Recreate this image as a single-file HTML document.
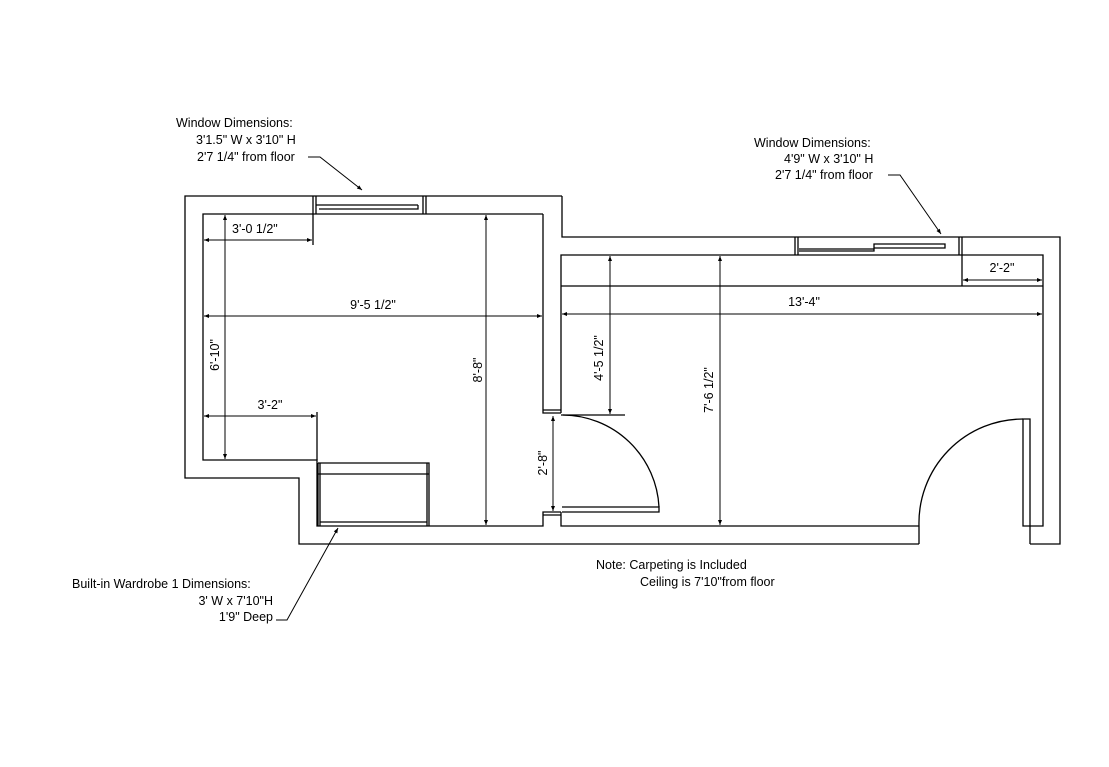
<!DOCTYPE html>
<html><head><meta charset="utf-8"><style>
html,body{margin:0;padding:0;background:#fff;}
svg{display:block;}
text{font-family:"Liberation Sans",sans-serif;font-size:12.5px;fill:#000;}
</style></head><body>
<svg width="1109" height="767" viewBox="0 0 1109 767" xmlns="http://www.w3.org/2000/svg">
<defs>
<marker id="a" viewBox="0 0 10 10" refX="10" refY="5" markerWidth="7" markerHeight="5" orient="auto-start-reverse"><path d="M0,1 L10,5 L0,9 z" fill="#000"/></marker>
</defs>
<g fill="none" stroke="#000" stroke-width="1.3">
<!-- outer wall -->
<path d="M562,196 H185 V478 H299 V544 H919"/>
<path d="M562,196 V237 H1060 V544 H1030"/>
<!-- inner room1 -->
<path d="M543,214 H203 V460 H317 V526 H543 V512 H561"/>
<path d="M543,214 V413 H561"/>
<path d="M543,410 H561"/>
<path d="M543,515 H561"/>
<!-- inner room2 -->
<path d="M561,413 V255 H1043 V526 H1030"/>
<path d="M561,512 V526 H919"/>
<path d="M919,526 V544 M1030,526 V544"/>
<path d="M1023,419 H1030 V526 H1023 Z"/>
<!-- windows -->
<path d="M313,196 V214 M316,196 V214 M423,196 V214 M426,196 V214 M316,205 H418 M319,209 H418 V205"/>
<path d="M795,237 V255 M798,237 V255 M959,237 V255 M962,237 V255 M799,249 H874 M799,251 H874 V244 H945 V248 H874"/>
<!-- wardrobe -->
<path d="M318,463 H429 V526 M318,463 V526 M320,463 V526 M427,463 V526 M318,474 H429 M320,522 H427"/>
<!-- doors -->
<path d="M562,507 H659 V512 H562"/>
<path d="M563,415 A97,97 0 0 1 659,507"/>
<path d="M1023,419 A104,104 0 0 0 919,526"/>
<!-- extension lines -->
<path d="M561,286 H1043"/>
<path d="M962,255 V286"/>
<path d="M561,415 H625"/>
<path d="M313,214 V245"/>
<path d="M317,412 V460"/>
</g>
<g fill="none" stroke="#000" stroke-width="1" marker-start="url(#a)" marker-end="url(#a)">
<line x1="204" y1="240" x2="312" y2="240"/>
<line x1="204" y1="316" x2="542" y2="316"/>
<line x1="204" y1="416" x2="316" y2="416"/>
<line x1="225" y1="215" x2="225" y2="459"/>
<line x1="486" y1="215" x2="486" y2="525"/>
<line x1="553" y1="416" x2="553" y2="511"/>
<line x1="610" y1="256" x2="610" y2="414"/>
<line x1="720" y1="256" x2="720" y2="525"/>
<line x1="562" y1="314" x2="1042" y2="314"/>
<line x1="963" y1="280" x2="1042" y2="280"/>
</g>
<g fill="none" stroke="#000" stroke-width="1">
<path d="M308,157 H320 L362,190" marker-end="url(#a)"/>
<path d="M888,175 H900 L941,234" marker-end="url(#a)"/>
<path d="M276,620 H287 L338,528" marker-end="url(#a)"/>
</g>
<text x="232" y="233">3'-0 1/2"</text>
<text x="373" y="309" text-anchor="middle">9'-5 1/2"</text>
<text x="270" y="409" text-anchor="middle">3'-2"</text>
<text x="804" y="306" text-anchor="middle">13'-4"</text>
<text x="1002" y="272" text-anchor="middle">2'-2"</text>
<text transform="translate(219,355) rotate(-90)" text-anchor="middle">6'-10"</text>
<text transform="translate(482,370) rotate(-90)" text-anchor="middle">8'-8"</text>
<text transform="translate(547,463) rotate(-90)" text-anchor="middle">2'-8"</text>
<text transform="translate(603,358) rotate(-90)" text-anchor="middle">4'-5 1/2"</text>
<text transform="translate(713,390) rotate(-90)" text-anchor="middle">7'-6 1/2"</text>
<text x="176" y="127">Window Dimensions:</text>
<text x="196" y="144">3'1.5" W x 3'10" H</text>
<text x="197" y="161">2'7 1/4" from floor</text>
<text x="754" y="147">Window Dimensions:</text>
<text x="784" y="163">4'9" W x 3'10" H</text>
<text x="775" y="179">2'7 1/4" from floor</text>
<text x="72" y="588">Built-in Wardrobe 1 Dimensions:</text>
<text x="273" y="605" text-anchor="end">3' W x 7'10"H</text>
<text x="273" y="621" text-anchor="end">1'9" Deep</text>
<text x="596" y="569">Note: Carpeting is Included</text>
<text x="640" y="586">Ceiling is 7'10"from floor</text>
</svg>
</body></html>
